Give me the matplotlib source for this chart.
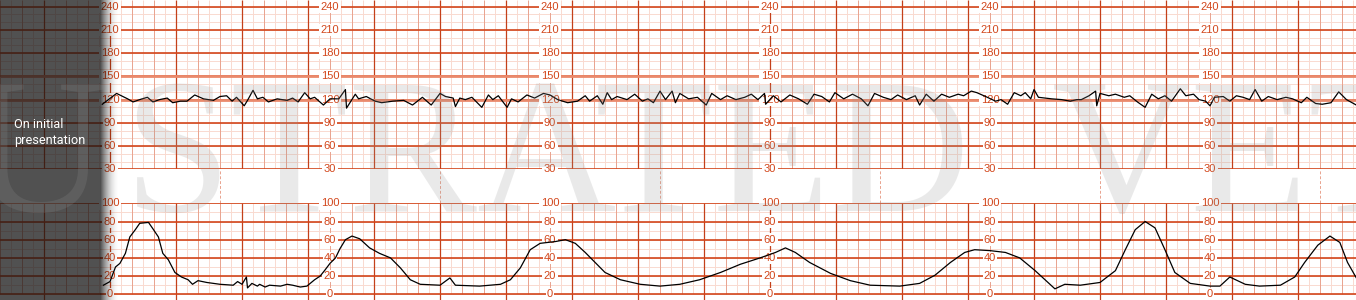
import numpy as np
import matplotlib
matplotlib.use("Agg")
import matplotlib.pyplot as plt
from matplotlib.patches import Rectangle

# fetal heart rate trace: time (s) and beats per minute
fhr_t = [-7, 6, 16, 21, 27, 34, 39, 45, 52, 57, 64, 70, 77, 85, 94, 100, 106, 111,
         115, 122, 125, 130, 134, 139, 144, 152, 161, 166, 171, 177, 182, 186, 194,
         200, 208, 214, 215, 223, 226, 233, 241, 247, 257, 267, 275, 284, 292, 300,
         305, 312, 314, 318, 323, 329, 338, 344, 348, 353, 361, 365, 371, 379, 386,
         394, 400, 407, 416, 425, 432, 436, 443, 448, 452, 456, 461, 470, 477, 484,
         489, 494, 500, 505, 511, 514, 518, 526, 534, 542, 547, 555, 561, 569, 577,
         583, 589, 595, 596, 603, 610, 618, 626, 634, 640, 647, 654, 659, 667, 675,
         683, 689, 695, 703, 710, 716, 724, 732, 736, 742, 749, 756, 763, 771, 776,
         783, 788, 796, 805, 810, 816, 822, 828, 832, 837, 840, 844, 856, 865, 873,
         879, 883, 890, 896, 897, 900, 908, 914, 922, 927, 934, 941, 947, 953, 959,
         965, 973, 978, 985, 990, 996, 1000, 1004, 1012, 1018, 1024, 1030, 1036,
         1041, 1047, 1053, 1061, 1069, 1075, 1083, 1088, 1096, 1102, 1110, 1117,
         1124, 1133]
fhr_bpm = [114, 128, 121, 117, 120, 123, 117, 120, 122, 116, 118, 118, 126, 121,
           119, 124, 125, 118, 123, 112, 119, 132, 121, 123, 117, 121, 119, 122,
           117, 129, 121, 123, 113, 121, 121, 133, 109, 127, 121, 124, 118, 116,
           118, 119, 113, 123, 113, 128, 124, 122, 111, 122, 120, 123, 110, 126,
           120, 125, 110, 121, 117, 126, 122, 128, 126, 120, 116, 118, 125, 118,
           125, 114, 129, 120, 124, 120, 127, 118, 121, 116, 131, 120, 131, 116,
           128, 121, 123, 113, 128, 120, 125, 120, 123, 127, 120, 128, 114, 125,
           117, 126, 121, 114, 127, 124, 117, 129, 121, 127, 121, 112, 128, 123,
           120, 126, 120, 125, 113, 127, 118, 127, 123, 127, 125, 131, 129, 124,
           118, 120, 114, 129, 125, 129, 121, 133, 123, 121, 120, 118, 120, 120,
           125, 131, 112, 128, 125, 127, 123, 125, 117, 110, 127, 121, 125, 118,
           134, 125, 127, 120, 118, 112, 123, 124, 118, 125, 123, 120, 133, 118,
           124, 120, 123, 121, 116, 123, 115, 114, 116, 130, 120, 113]

# uterine activity trace: time (s) and pressure units
uc_t = [-6, 0, 5, 9, 14, 18, 23, 27, 35, 39, 44, 48, 53, 59, 65, 71, 75, 80, 88,
        100, 112, 116, 120, 124, 125, 129, 134, 136, 141, 145, 155, 161, 166, 173,
        179, 186, 191, 195, 200, 205, 209, 214, 220, 227, 236, 245, 255, 264, 273,
        282, 300, 309, 314, 336, 355, 364, 373, 382, 391, 405, 414, 423, 432, 441,
        450, 464, 482, 500, 518, 536, 555, 573, 591, 605, 614, 623, 636, 655, 673,
        691, 718, 736, 750, 764, 777, 786, 800, 814, 827, 841, 850, 859, 868, 882,
        900, 914, 923, 932, 941, 950, 959, 968, 982, 1000, 1009, 1018, 1032, 1045,
        1064, 1077, 1086, 1098, 1109, 1118, 1125, 1133]
uc_val = [10, 14, 30, 34, 45, 63, 71, 78, 79, 72, 63, 45, 38, 24, 19, 16, 11, 15,
          13, 11, 10, 14, 11, 19, 7, 12, 9, 11, 8, 10, 9, 11, 10, 8, 9, 16, 20, 26,
          34, 40, 50, 60, 64, 61, 51, 45, 40, 29, 16, 11, 10, 18, 10, 9, 11, 16, 29,
          49, 56, 58, 60, 56, 46, 35, 24, 16, 11, 9, 11, 16, 24, 33, 40, 46, 51, 46,
          35, 23, 15, 10, 9, 12, 21, 35, 46, 49, 48, 46, 40, 26, 16, 6, 11, 10, 13,
          26, 49, 71, 80, 73, 49, 24, 12, 9, 9, 19, 11, 9, 10, 19, 35, 54, 64, 57,
          35, 18]

fhr_labels = [240, 210, 180, 150, 120, 90, 60, 30]
uc_labels = [100, 80, 60, 40, 20, 0]
label_cols = [0, 200, 400, 600, 800, 1000]

W, H = 1356, 300
T0, T1 = -100, 1132.7

PINK = "#f9dad0"
MID = "#e9a38e"
DARK = "#c4401a"
MAJOR = "#d2461b"
SALMON = "#ea8a6c"

fig = plt.figure(figsize=(W / 100, H / 100), dpi=100)
fig.patch.set_facecolor("white")


def px_axes(top, bottom):
    ax = fig.add_axes([0, 1 - bottom / H, 1, (bottom - top) / H])
    ax.set_xlim(T0, T1)
    ax.set_axis_off()
    return ax


def draw_grid(ax, ylo, yhi, ytop, ybot, minor, major):
    t10 = np.arange(-100, 1140, 10)
    pink = t10[t10 % 20 != 0]
    mid = t10[(t10 % 20 == 0) & (t10 % 60 != 0)]
    dark = t10[t10 % 60 == 0]
    ax.vlines(pink, ylo, ytop, color=PINK, lw=0.7, zorder=1)
    ax.hlines(np.arange(ylo, yhi + 1, minor), T0, T1, color=PINK, lw=0.7, zorder=1)
    ax.vlines(mid, ylo, ytop, color=MID, lw=0.7, zorder=2)
    ax.vlines(dark, ybot, ytop, color=DARK, lw=0.9, zorder=3)
    ax.hlines(np.arange(ylo, yhi + 1, major), T0, T1, color=MAJOR, lw=1.2, zorder=3)


def draw_labels(ax, values):
    for c in label_cols:
        for v in values:
            ax.text(c, v, str(v), ha="center", va="center", color=MAJOR,
                    fontsize=8, family="Liberation Sans", zorder=5,
                    bbox=dict(boxstyle="square,pad=0.12", fc="white", ec="none"))


# top panel: heart rate
ax_top = px_axes(0, 169.3)
ax_top.set_ylim(30, 248.65)
draw_grid(ax_top, 30, 240, 248.65, 30, 10, 30)
ax_top.hlines([120, 150], T0, T1, color=SALMON, lw=2.0, zorder=4)
draw_labels(ax_top, fhr_labels)
ax_top.plot(fhr_t, fhr_bpm, color="black", lw=0.9, zorder=6)

# gap between panels
ax_gap = px_axes(169.3, 203.3)
ax_gap.set_ylim(0, 1)
ax_gap.vlines(np.arange(100, 1140, 200), 0, 1, color=MID, lw=0.7,
              linestyles=(0, (3, 2)))

# bottom panel: uterine activity
ax_bot = px_axes(203.3, 300)
ax_bot.set_ylim(-6.26, 100)
draw_grid(ax_bot, 0, 100, 100, -6.26, 10, 20)
draw_labels(ax_bot, uc_labels)
ax_bot.plot(uc_t, uc_val, color="black", lw=0.9, zorder=6)

# dark side panel with shadow edge
fig.add_artist(Rectangle((0, 0), 100 / W, 1, transform=fig.transFigure,
                         fc="#141414", ec="none", alpha=0.74, zorder=10))
ax_sh = fig.add_axes([100 / W, 0, 20 / W, 1])
ax_sh.set_axis_off()
ax_sh.set_zorder(10)
s = np.linspace(0, 1, 60)
shade = np.zeros((1, 60, 4))
shade[0, :, 3] = 0.72 * (1 - s) ** 2
ax_sh.imshow(shade, aspect="auto", extent=(0, 1, 0, 1), interpolation="bilinear")

# watermark
wm = dict(fontsize=139, family="Liberation Serif", color="#959595", alpha=0.2,
          va="baseline", zorder=11)
fig.text(108 / W, 1 - 211 / H, "ILLU", ha="right", **wm)
fig.text(123 / W, 1 - 211 / H, "STRATED", ha="left", **wm)
fig.text(1052 / W, 1 - 211 / H, "VETERINARY", ha="left", **wm)

# panel caption
cap = dict(color="white", fontsize=9.2, va="baseline", zorder=12,
           family=["Liberation Sans Narrow", "Roboto"])
fig.text(14 / W, 1 - 128 / H, "On initial", **cap)
fig.text(14 / W, 1 - 144 / H, "presentation", **cap)

fig.savefig("out.png", dpi=100)
